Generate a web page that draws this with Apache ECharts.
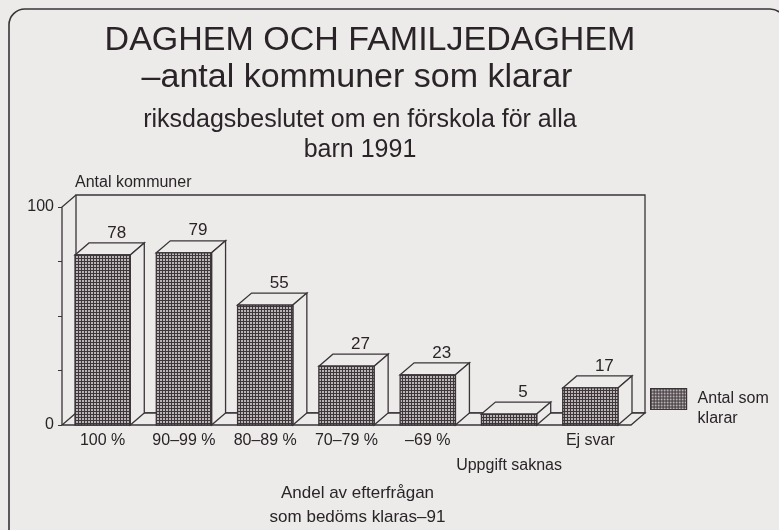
<!DOCTYPE html>
<html lang="sv">
<head>
<meta charset="UTF-8">
<title>Daghem och familjedaghem</title>
<script src="https://cdn.jsdelivr.net/npm/echarts@6/dist/echarts.min.js"></script>
<style>
  html, body { margin: 0; padding: 0; background: #ecebe9; }
  #chart { width: 779px; height: 530px; }
</style>
</head>
<body>
<div id="chart"></div>
<script>
// andel av efterfrågan som bedöms klaras -91
const categories = ['100 %', '90–99 %', '80–89 %', '70–79 %', '–69 %', 'Uppgift saknas', 'Ej svar'];
// antal kommuner som klarar
const values = [78, 79, 55, 27, 23, 5, 17];
const yLabels = [0, 100];

const ink = '#3a3438';
const paper = '#ecebe9';
const depth = [14, -12];

// rastermönster för framsidan
function makePattern() {
  const c = document.createElement('canvas');
  c.width = 3; c.height = 3;
  const g = c.getContext('2d');
  g.fillStyle = '#3e363a';
  g.fillRect(0, 0, 3, 3);
  g.fillStyle = '#bab5b5';
  g.fillRect(1, 1, 2, 2);
  return { image: c, repeat: 'repeat' };
}
const pattern = makePattern();

function renderFrame(params, api) {
  const cs = params.coordSys;
  const x0 = cs.x, x1 = cs.x + cs.width;
  const yT = cs.y, yB = cs.y + cs.height;
  const dx = depth[0], dy = depth[1];
  const line = { stroke: ink, lineWidth: 1.3, fill: paper };
  return {
    type: 'group',
    children: [
      { type: 'rect', shape: { x: x0 + dx, y: yT + dy, width: cs.width, height: cs.height }, style: line },
      { type: 'polygon', shape: { points: [[x0, yB], [x1, yB], [x1 + dx, yB + dy], [x0 + dx, yB + dy]] }, style: line },
      { type: 'polyline', shape: { points: [[x0, yB], [x0, yT], [x0 + dx, yT + dy]] }, style: { stroke: ink, lineWidth: 1.3, fill: null } }
    ]
  };
}

function renderBar(params, api) {
  const c = api.coord([api.value(0), api.value(1)]);
  const base = api.coord([api.value(0), 0]);
  const bw = api.size([1, 0])[0] * 0.68;
  const x0 = c[0] - bw / 2, x1 = c[0] + bw / 2;
  const yT = c[1], yB = base[1];
  const dx = depth[0], dy = depth[1];
  const edge = { stroke: ink, lineWidth: 1.3, fill: paper };
  return {
    type: 'group',
    children: [
      { type: 'polygon', shape: { points: [[x0, yT], [x0 + dx, yT + dy], [x1 + dx, yT + dy], [x1, yT]] }, style: edge },
      { type: 'polygon', shape: { points: [[x1, yT], [x1 + dx, yT + dy], [x1 + dx, yB + dy], [x1, yB]] }, style: edge },
      { type: 'rect', shape: { x: x0, y: yT, width: bw, height: yB - yT }, style: { fill: pattern, stroke: ink, lineWidth: 1.3 } },
      { type: 'text', x: c[0] + dx, y: yT + dy - 10,
        style: { text: String(api.value(1)), align: 'center', verticalAlign: 'middle',
                 font: '17px "Liberation Sans", Arial, sans-serif', fill: '#2a2428' } }
    ]
  };
}

const chart = echarts.init(document.getElementById('chart'));
chart.setOption({
  backgroundColor: paper,
  animation: false,
  textStyle: { fontFamily: '"Liberation Sans", Arial, sans-serif', color: '#2a2428' },
  title: [
    { text: 'DAGHEM OCH FAMILJEDAGHEM', left: 370, top: 24, textAlign: 'center', padding: 0,
      textStyle: { fontSize: 34, fontWeight: 'normal', color: '#2a2428' } },
    { text: '–antal kommuner som klarar', left: 357, top: 61, textAlign: 'center', padding: 0,
      textStyle: { fontSize: 34, fontWeight: 'normal', color: '#2a2428' } },
    { text: 'riksdagsbeslutet om en förskola för alla\nbarn 1991', left: 360, top: 105, textAlign: 'center', padding: 0,
      textStyle: { fontSize: 25, fontWeight: 'normal', lineHeight: 30, color: '#2a2428' } }
  ],
  graphic: [
    { type: 'rect', shape: { x: 9, y: 9, width: 777, height: 580, r: 16 },
      style: { fill: null, stroke: ink, lineWidth: 1.6 }, z: 100 }
  ],
  legend: {
    data: ['Antal som klarar'],
    left: 650, top: 369, padding: 0,
    itemWidth: 36, itemHeight: 21, itemGap: 0,
    icon: 'rect',
    itemStyle: { borderColor: ink, borderWidth: 1.2 },
    formatter: () => '\nAntal som\nklarar',
    textStyle: { fontSize: 16, lineHeight: 20, padding: [0, 0, 0, 6], color: '#2a2428' }
  },
  grid: { left: 62, right: 148, top: 207, bottom: 105 },
  xAxis: {
    type: 'category',
    data: categories,
    axisLine: { show: false },
    axisTick: { show: false },
    axisLabel: {
      interval: 0, fontSize: 16, lineHeight: 25, margin: 3, color: '#2a2428',
      formatter: (v, i) => (i === 5 ? '\n' + v : v)
    },
    name: 'Andel av efterfrågan\nsom bedöms klaras–91',
    nameLocation: 'middle',
    nameGap: 56,
    nameTextStyle: { fontSize: 17, lineHeight: 24, padding: [0, 0, 0, 22], color: '#2a2428' }
  },
  yAxis: {
    type: 'value',
    min: 0, max: 100, interval: 25,
    splitLine: { show: false },
    axisLine: { show: false },
    axisTick: { show: true, length: 4, lineStyle: { color: ink } },
    axisLabel: {
      fontSize: 16, margin: 8, color: '#2a2428',
      formatter: v => (yLabels.indexOf(v) >= 0 ? String(v) : '')
    },
    name: 'Antal kommuner',
    nameLocation: 'end',
    nameGap: 16,
    nameTextStyle: { fontSize: 16, align: 'left', padding: [0, 0, 0, 13], color: '#2a2428' }
  },
  series: [
    { name: 'ram', type: 'custom', renderItem: renderFrame, data: [[0]], z: 1, silent: true },
    {
      name: 'Antal som klarar', type: 'custom', renderItem: renderBar, z: 2,
      itemStyle: { color: pattern },
      data: values.map((v, i) => [i, v])
    }
  ]
});
</script>
</body>
</html>
